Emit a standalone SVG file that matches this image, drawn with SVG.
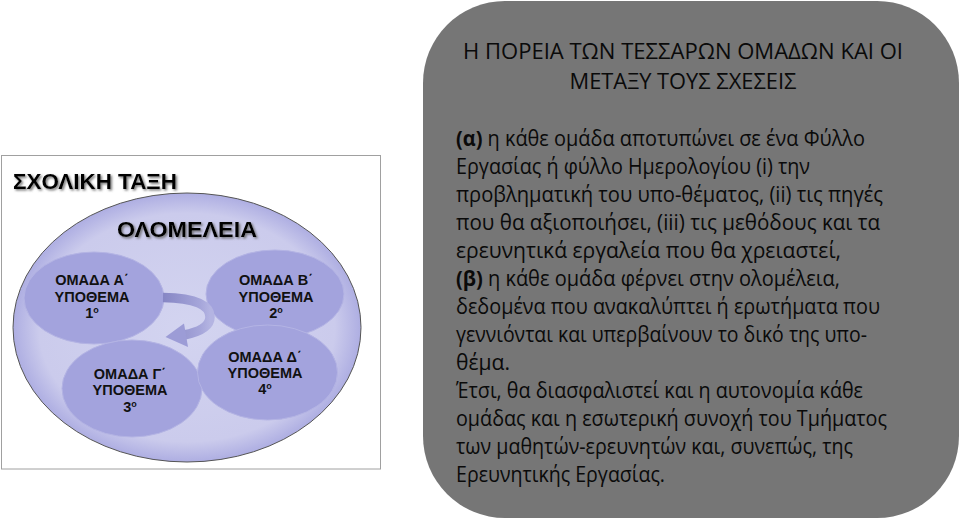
<svg xmlns="http://www.w3.org/2000/svg" width="960" height="521" viewBox="0 0 960 521">
<defs>
<radialGradient id="outerFill" cx="0.5" cy="0.5" r="0.5">
<stop offset="0" stop-color="#d3d4f0"/>
<stop offset="0.85" stop-color="#cbcbec"/>
<stop offset="1" stop-color="#aeaee2"/>
</radialGradient>
<linearGradient id="arrowFill" x1="0" y1="0" x2="1" y2="0">
<stop offset="0" stop-color="#8686c4"/>
<stop offset="0.8" stop-color="#a6a6da"/>
<stop offset="1" stop-color="#b4b4e2"/>
</linearGradient>
<filter id="shadow" x="-10%" y="-30%" width="130%" height="180%">
<feDropShadow dx="1.5" dy="1.5" stdDeviation="1" flood-color="#666" flood-opacity="0.9"/>
</filter>
</defs>
<style>
.frame{fill:#ffffff;stroke:#a0a0a0;stroke-width:1}
.outer{fill:url(#outerFill);stroke:#555;stroke-width:1}
.group{fill:#a3a3dd;stroke:#b4b4e4;stroke-width:1}
.head{font-family:"Liberation Sans",Arial,sans-serif;font-weight:bold;font-size:22.5px;fill:#000}
.gt{font-family:"Liberation Sans",Arial,sans-serif;font-weight:bold;font-size:14.5px;fill:#111;text-anchor:middle}
.sup{font-size:9px}
.panel{fill:#767676}
.title{font-family:"Open Sans","Noto Sans",sans-serif;font-size:21.5px;fill:#0a0a0a;text-anchor:middle}
.body{font-family:"Open Sans","Noto Sans",sans-serif;font-size:22px;fill:#0a0a0a}
.b{font-weight:bold}
</style>

<g id="classroom">
<rect class="frame" x="1.5" y="155.5" width="379" height="313.5"/>
<text class="head" x="13" y="189" textLength="164" lengthAdjust="spacingAndGlyphs" filter="url(#shadow)">ΣΧΟΛΙΚΗ ΤΑΞΗ</text>
</g>

<g id="plenary">
<ellipse class="outer" cx="187" cy="327.5" rx="174" ry="134.5"/>
<text class="head" x="187" y="237" text-anchor="middle" textLength="140" lengthAdjust="spacingAndGlyphs" filter="url(#shadow)">ΟΛΟΜΕΛΕΙΑ</text>
</g>

<g id="group-a">
<ellipse class="group" cx="94" cy="298" rx="70" ry="46"/>
<text class="gt" x="92" y="285">ΟΜΑΔΑ Α΄</text>
<text class="gt" x="92" y="302">ΥΠΟΘΕΜΑ</text>
<text class="gt" x="92" y="318">1<tspan class="sup" dy="-5">ο</tspan></text>
</g>

<g id="group-b">
<ellipse class="group" cx="275" cy="294" rx="69" ry="44"/>
<text class="gt" x="276" y="285">ΟΜΑΔΑ Β΄</text>
<text class="gt" x="276" y="302">ΥΠΟΘΕΜΑ</text>
<text class="gt" x="276" y="318">2<tspan class="sup" dy="-5">ο</tspan></text>
</g>

<g id="group-c">
<ellipse class="group" cx="132" cy="388.5" rx="70" ry="48.5"/>
<text class="gt" x="130" y="379">ΟΜΑΔΑ Γ΄</text>
<text class="gt" x="130" y="395">ΥΠΟΘΕΜΑ</text>
<text class="gt" x="130" y="412">3<tspan class="sup" dy="-5">ο</tspan></text>
</g>

<g id="group-d">
<ellipse class="group" cx="267.5" cy="372.5" rx="70" ry="47.5"/>
<text class="gt" x="265" y="362">ΟΜΑΔΑ Δ΄</text>
<text class="gt" x="265" y="378">ΥΠΟΘΕΜΑ</text>
<text class="gt" x="265" y="394">4<tspan class="sup" dy="-5">ο</tspan></text>
</g>

<g id="connectors">
<path d="M163,297.5 C195,298 210,305 210,317 C210,327 199,332 184,335" fill="none" stroke="url(#arrowFill)" stroke-width="9.5"/>
<polygon points="165.5,337 184,323.5 188,347" fill="#9c9cd6"/>
</g>

<g id="panel">
<rect class="panel" x="423" y="1" width="536" height="517" rx="82" ry="82"/>
<text class="title" x="683" y="58.5" textLength="440" lengthAdjust="spacingAndGlyphs">Η ΠΟΡΕΙΑ ΤΩΝ ΤΕΣΣΑΡΩΝ ΟΜΑΔΩΝ ΚΑΙ ΟΙ</text>
<text class="title" x="683" y="88.5" textLength="227" lengthAdjust="spacingAndGlyphs">ΜΕΤΑΞΥ ΤΟΥΣ ΣΧΕΣΕΙΣ</text>
<text class="body" x="456" y="145.5" textLength="409" lengthAdjust="spacingAndGlyphs"><tspan class="b">(α)</tspan> η κάθε ομάδα αποτυπώνει σε ένα Φύλλο</text>
<text class="body" x="456" y="173.5" textLength="354" lengthAdjust="spacingAndGlyphs">Εργασίας ή φύλλο Ημερολογίου (i)  την</text>
<text class="body" x="456" y="201.5" textLength="427" lengthAdjust="spacingAndGlyphs">προβληματική του υπο-θέματος, (ii)  τις πηγές</text>
<text class="body" x="456" y="229.5" textLength="424" lengthAdjust="spacingAndGlyphs">που θα αξιοποιήσει, (iii) τις μεθόδους και τα</text>
<text class="body" x="456" y="257.5" textLength="385" lengthAdjust="spacingAndGlyphs">ερευνητικά εργαλεία που θα χρειαστεί,</text>
<text class="body" x="456" y="285.5" textLength="384" lengthAdjust="spacingAndGlyphs"><tspan class="b">(β)</tspan> η κάθε ομάδα φέρνει στην ολομέλεια,</text>
<text class="body" x="456" y="313.5" textLength="424" lengthAdjust="spacingAndGlyphs">δεδομένα που ανακαλύπτει ή ερωτήματα που</text>
<text class="body" x="456" y="341.5" textLength="411" lengthAdjust="spacingAndGlyphs">γεννιόνται και υπερβαίνουν το δικό της υπο-</text>
<text class="body" x="456" y="369.5" textLength="54" lengthAdjust="spacingAndGlyphs">θέμα.</text>
<text class="body" x="456" y="397.5" textLength="407" lengthAdjust="spacingAndGlyphs">Έτσι, θα διασφαλιστεί και η αυτονομία κάθε</text>
<text class="body" x="456" y="425.5" textLength="431" lengthAdjust="spacingAndGlyphs">ομάδας και η εσωτερική συνοχή του Τμήματος</text>
<text class="body" x="456" y="453.5" textLength="397" lengthAdjust="spacingAndGlyphs">των μαθητών-ερευνητών και, συνεπώς, της</text>
<text class="body" x="456" y="481.5" textLength="209" lengthAdjust="spacingAndGlyphs">Ερευνητικής Εργασίας.</text>
</g>
</svg>
